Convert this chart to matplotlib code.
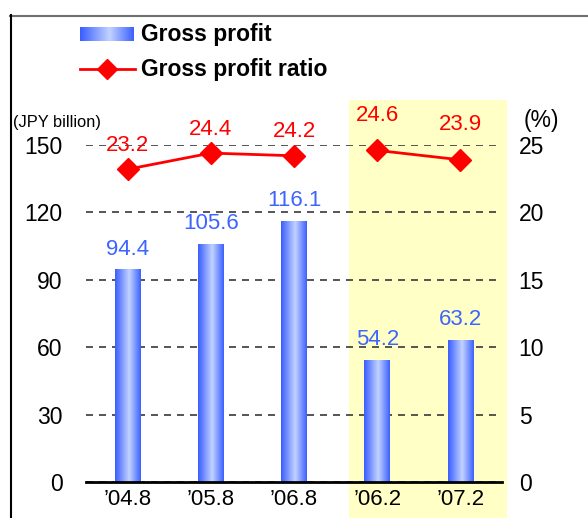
import matplotlib
matplotlib.use("Agg")
import matplotlib.pyplot as plt
import numpy as np
from matplotlib.colors import LinearSegmentedColormap
from matplotlib.patches import Rectangle
from matplotlib.lines import Line2D

# data
periods = ["’04.8", "’05.8", "’06.8", "’06.2", "’07.2"]
gross_profit = [94.4, 105.6, 116.1, 54.2, 63.2]        # JPY billion
profit_ratio = [23.2, 24.4, 24.2, 24.6, 23.9]          # %
segments = [[0, 1, 2], [3, 4]]                          # full year / half year
highlight = [3, 4]

plt.rcParams['font.family'] = ['Liberation Sans', 'DejaVu Sans']

W, H = 588, 518


def fx(p):
    return p / W


def fy(p):
    return 1 - p / H


fig = plt.figure(figsize=(W / 100, H / 100), dpi=100)
ax = fig.add_axes([fx(86), fy(482), fx(502) - fx(86), fy(145) - fy(482)])
ax.patch.set_visible(False)

bar_cmap = LinearSegmentedColormap.from_list(
    'bar', [(0, '#3a5eff'), (0.55, '#c3d3ff'), (1, '#3d62ff')])
grad = np.linspace(0, 1, 64).reshape(1, -1)

x = np.arange(len(periods))
bars = ax.bar(x, gross_profit, width=0.31, color='none')
for b, v in zip(bars, gross_profit):
    ax.imshow(grad, cmap=bar_cmap, aspect='auto', zorder=2,
              extent=(b.get_x(), b.get_x() + b.get_width(), 0, b.get_height()))
    ax.annotate(f'{v:.1f}', (b.get_x() + b.get_width() / 2, v), xytext=(0, 15),
                textcoords='offset points', ha='center', va='center',
                color='#3c64ff', fontsize=16, annotation_clip=False)

# highlighted half-year periods
lo = min(highlight) - 0.34
ax.add_patch(Rectangle((lo, -20), max(highlight) + 0.56 - lo, 190, facecolor='#ffffc6',
                       edgecolor='none', zorder=0.5, clip_on=False))

ax.set_xlim(-0.5, len(periods) - 0.5)
ax.set_ylim(0, 150)
ax.set_yticks([0, 30, 60, 90, 120, 150])
ax.set_xticks(x, periods)
ax.tick_params(axis='y', length=0, pad=17, labelsize=16.5)
ax.tick_params(axis='x', length=0, pad=5, labelsize=16)
ax.grid(axis='y', color='#383838', linestyle=(0, (4.2, 3.6)), linewidth=1.2)
for s in ['top', 'left', 'right']:
    ax.spines[s].set_visible(False)
ax.spines['bottom'].set_linewidth(2)

ax2 = ax.twinx()
ax2.set_ylim(0, 25)
ax2.set_yticks([0, 5, 10, 15, 20, 25])
ax2.tick_params(axis='y', length=0, pad=12, labelsize=16.5)
for s in ax2.spines.values():
    s.set_visible(False)

label_dy = [24, 24, 24, 35, 35]
for seg in segments:
    ax2.plot([x[i] for i in seg], [profit_ratio[i] for i in seg], color='red', lw=2,
             marker='D', ms=11, mfc='red', mec='red', clip_on=False)
for i, r in enumerate(profit_ratio):
    ax2.annotate(f'{r:.1f}', (x[i], r), xytext=(0, label_dy[i] * 0.72),
                 textcoords='offset points', ha='center', va='center',
                 color='red', fontsize=16, annotation_clip=False)

fig.text(fx(13), fy(123), '(JPY billion)', fontsize=11.8, va='center')
fig.text(fx(524), fy(120), '(%)', fontsize=16.5, va='center')

# legend
leg_ax = fig.add_axes([fx(80), fy(41), fx(134) - fx(80), fy(27) - fy(41)])
leg_ax.imshow(grad, cmap=bar_cmap, aspect='auto')
leg_ax.axis('off')
fig.add_artist(Line2D([fx(80), fx(135)], [fy(69), fy(69)], color='red', lw=2))
fig.add_artist(Line2D([fx(107)], [fy(69)], marker='D', ms=10, color='red'))
fig.text(fx(141), fy(35), 'Gross profit', fontsize=16.5, fontweight='bold', va='center')
fig.text(fx(141), fy(69), 'Gross profit ratio', fontsize=16.5, fontweight='bold', va='center')

# frame
fig.add_artist(Line2D([fx(10), 1], [fy(15.5), fy(15.5)], color='#707070', lw=1.5))
fig.add_artist(Line2D([fx(10.5), fx(10.5)], [fy(15), 0], color='black', lw=1.5))

fig.savefig('out.png', dpi=100)
